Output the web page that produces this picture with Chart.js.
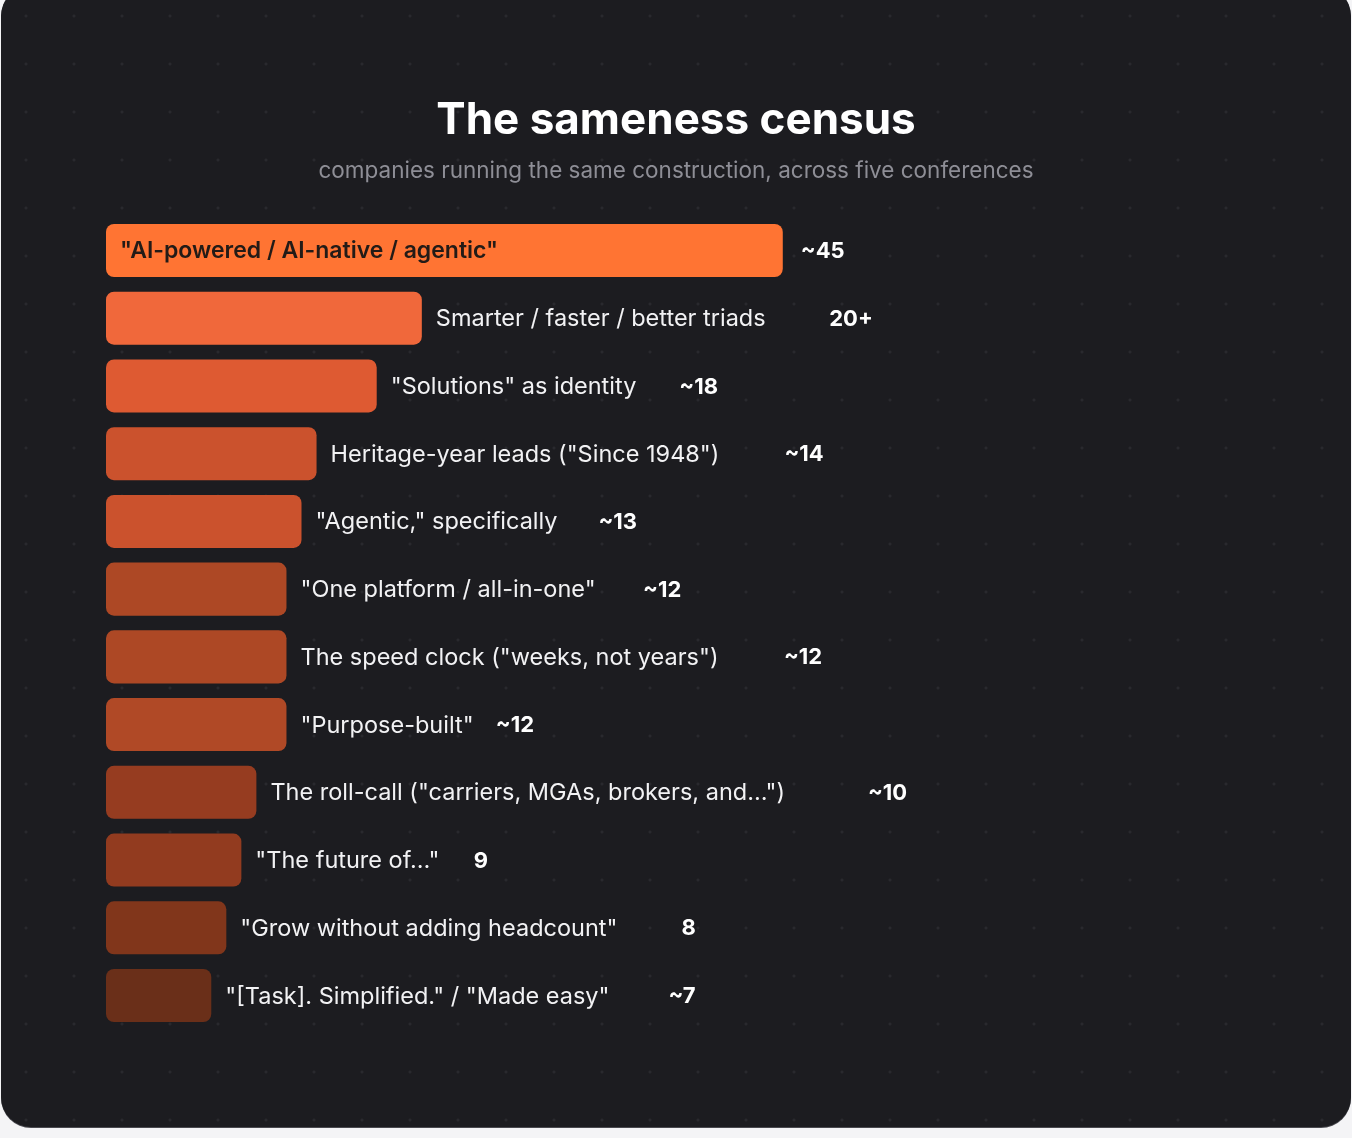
<!DOCTYPE html>
<html>
<head>
<meta charset="utf-8">
<script src="https://cdn.jsdelivr.net/npm/chart.js@4.4.1/dist/chart.umd.min.js"></script>
<style>
    html, body {
        margin: 0;
        padding: 0;
        width: 1352px;
        height: 1138px;
        background: #f4f4f6;
        overflow: hidden;
    }
    #card {
        position: absolute;
        left: 1px;
        top: -14px;
        width: 1350px;
        height: 1141px;
        border-radius: 30px;
        background-color: #1c1c20;
        background-image: radial-gradient(circle, #29292e 1.2px, transparent 1.8px);
        background-size: 48px 48px;
        background-position: 1px 6px;
        box-shadow: 0 1px 0 #4a4a50;
    }
    #wrap {
        position: absolute;
        left: 0;
        top: 0;
        width: 1352px;
        height: 1138px;
    }
</style>
</head>
<body>
<div id="card"></div>
<div id="wrap"><canvas id="census"></canvas></div>
<script>
    const categories = [
        "\"AI-powered / AI-native / agentic\"",
        "Smarter / faster / better triads",
        "\"Solutions\" as identity",
        "Heritage-year leads (\"Since 1948\")",
        "\"Agentic,\" specifically",
        "\"One platform / all-in-one\"",
        "The speed clock (\"weeks, not years\")",
        "\"Purpose-built\"",
        "The roll-call (\"carriers, MGAs, brokers, and…\")",
        "\"The future of…\"",
        "\"Grow without adding headcount\"",
        "\"[Task]. Simplified.\" / \"Made easy\""
    ];
    const counts = [45, 21, 18, 14, 13, 12, 12, 12, 10, 9, 8, 7];
    const countLabels = ["~45", "20+", "~18", "~14", "~13", "~12", "~12", "~12", "~10", "9", "8", "~7"];

    const barColors = [
        "#ff7433", "#f0683b", "#de5a32", "#cb522d", "#cb522d", "#ad4825",
        "#ad4825", "#b04926", "#963c20", "#923b1f", "#81361b", "#6a2f19"
    ];

    const fontFamily = "Inter, 'Noto Sans', sans-serif";
    const labelFont = "400 23.5px " + fontFamily;
    const insideFont = "600 23px " + fontFamily;
    const valueFont = "700 22px " + fontFamily;
    // value column lands where the label was measured in the wide fallback font
    const measureFont = "400 26px 'DejaVu Sans'";

    const barText = {
        id: "barText",
        afterDatasetsDraw(chart) {
            let ctx = chart.ctx;
            let bars = chart.getDatasetMeta(0).data;
            ctx.save();
            ctx.textBaseline = "middle";
            ctx.textAlign = "left";
            for (let i = 0; i < bars.length; i++) {
                let bar = bars[i];
                let label = categories[i];
                ctx.font = insideFont;
                let w = ctx.measureText(label).width;
                let valueX;
                if (bar.x - bar.base > w + 60) {
                    ctx.fillStyle = "#231b17";
                    ctx.fillText(label, bar.base + 14, bar.y + 1);
                    valueX = bar.x + 18;
                } else {
                    ctx.font = labelFont;
                    ctx.fillStyle = "#f2f2f4";
                    ctx.fillText(label, bar.x + 14, bar.y + 1);
                    ctx.font = measureFont;
                    valueX = bar.x + 14 + ctx.measureText(label).width;
                }
                ctx.font = valueFont;
                ctx.fillStyle = "#ffffff";
                ctx.fillText(countLabels[i], valueX, bar.y + 1);
            }
            ctx.restore();
        }
    };

    Chart.defaults.font.family = fontFamily;

    new Chart(document.getElementById("census"), {
        type: "bar",
        data: {
            labels: categories,
            datasets: [{
                data: counts,
                backgroundColor: barColors,
                borderRadius: 8,
                borderSkipped: false,
                barPercentage: 0.783,
                categoryPercentage: 1
            }]
        },
        options: {
            indexAxis: "y",
            responsive: true,
            maintainAspectRatio: false,
            animation: false,
            events: [],
            layout: {
                padding: {left: 106, right: 106, top: 0, bottom: 108.6}
            },
            scales: {
                x: {display: false, min: 0, max: 75.8},
                y: {display: false}
            },
            plugins: {
                legend: {display: false},
                tooltip: {enabled: false},
                title: {
                    display: true,
                    text: "The sameness census",
                    color: "#ffffff",
                    font: {size: 44, weight: "700"},
                    padding: {top: 94.6, bottom: 10.1}
                },
                subtitle: {
                    display: true,
                    text: "companies running the same construction, across five conferences",
                    color: "#8e8e96",
                    font: {size: 22.5, weight: "400"},
                    padding: {top: 0, bottom: 32.1}
                }
            }
        },
        plugins: [barText]
    });
</script>
</body>
</html>
